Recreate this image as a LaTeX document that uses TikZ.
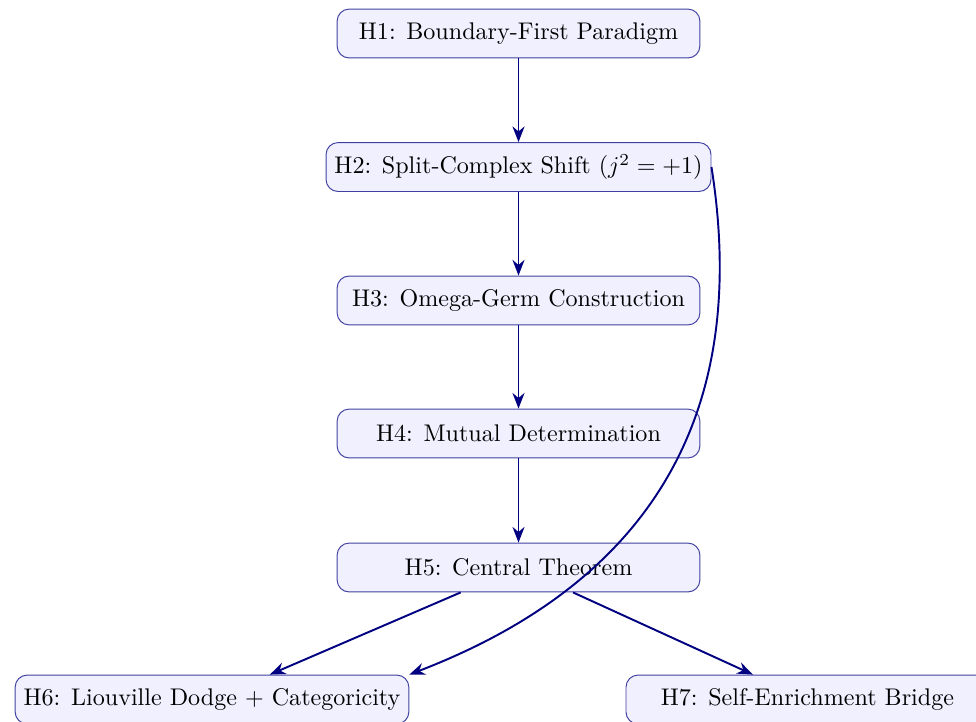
\documentclass[tikz,border=0pt]{standalone}
\usepackage{amsmath}
\usetikzlibrary{arrows.meta}
\definecolor{navy}{RGB}{0,0,128}
\tikzset{%
  hbox/.style={draw=navy!75,fill=blue!6,rounded corners=5pt,minimum width=150.6pt,minimum height=20.3pt,inner sep=3.5pt},
  harrow/.style={draw=navy,thick,-{Stealth[length=6.5pt,width=5pt]}}
}
\begin{document}
\begin{tikzpicture}
    \useasboundingbox (0,0) rectangle (14.24,-10.534);
    \path
      (7.565,-0.489) node[hbox] (h1) {H1: Boundary-First Paradigm}
      (7.565,-2.437) node[hbox] (h2) {H2: Split-Complex Shift ($j^2 = +1$)}
      (7.565,-4.384) node[hbox] (h3) {H3: Omega-Germ Construction}
      (7.565,-6.325) node[hbox] (h4) {H4: Mutual Determination}
      (7.565,-8.280) node[hbox] (h5) {H5: Central Theorem}
      (3.093,-10.206) node[hbox] (h6) {H6: Liouville Dodge + Categoricity}
      (11.78,-10.206) node[hbox] (h7) {H7: Self-Enrichment Bridge};
    \draw[harrow] (h1) -- (h2);
    \draw[harrow] (h2) -- (h3);
    \draw[harrow] (h3) -- (h4);
    \draw[harrow] (h4) -- (h5);
    \draw[harrow] (h5) -- (h6);
    \draw[harrow] (h5) -- (h7);
    \draw[harrow] (h2.east) to[out=-81,in=21,looseness=1.1] (h6.north east);
  \end{tikzpicture}
\end{document}
